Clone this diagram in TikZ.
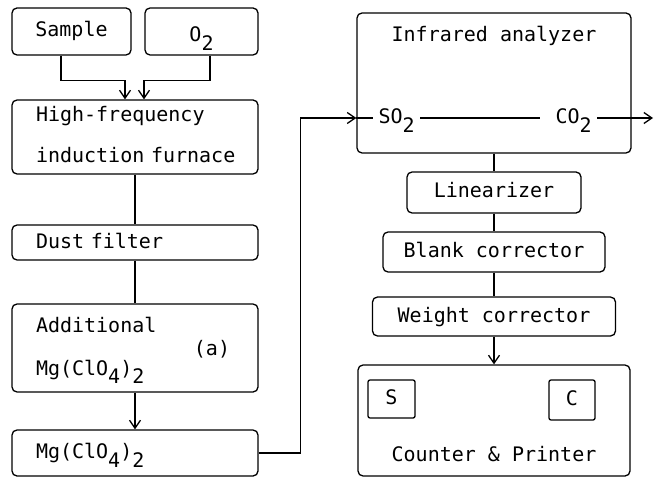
\documentclass[tikz,border=0pt]{standalone}
\usepackage{fontspec}
\newfontfamily\monofont[Ligatures=NoCommon]{DejaVu Sans Mono}
\usetikzlibrary{arrows.meta}
\newcommand{\lowered}[1]{\raisebox{-0.8ex}{#1}}

\begin{document}
\begin{tikzpicture}[x=1pt, y=-1pt, line width=1.3pt, >={Straight Barb[length=8pt,width=11pt]},
  txt/.style = {font=\monofont\fontsize{20}{24}\selectfont, inner sep=0pt, text height=15pt, text depth=4pt},
  main/.style = {txt, draw, rounded corners=5pt},
  col/.style = {main, minimum width=246pt, text width=198pt, align=left}]
\useasboundingbox (0,0) rectangle (655,478);
\node[main, minimum width=119pt, minimum height=47pt] (1) at (71.5,31.5) {Sample};
\node[main, minimum width=113pt, minimum height=47pt, text height=25pt] (2) at (201.5,31.5) {O\lowered{2}};
\node[col, minimum height=74pt, text depth=45pt] (3) at (135,137) {High-frequency\\[17pt]\mbox{induction furnace}};
\node[col, minimum height=35pt] (4) at (135,242.5) {Dust filter};
\node[col, minimum height=88pt, text depth=47pt] (5) at (135,348) {Additional\\[19pt]Mg(ClO\lowered{4})\lowered{2}};
\node[txt] (16) at (212,349.5) {(a)};
\node[col, minimum height=46pt] (6) at (135,453) {Mg(ClO\lowered{4})\lowered{2}};

\node[main, minimum width=274pt, minimum height=140pt, label={[txt, anchor=base, yshift=-29pt]north:Infrared analyzer}] (7) at (494,83) {};
\node[txt, inner xsep=5pt, anchor=west] (14) at (373,118) {SO\lowered{2}};
\node[txt, inner xsep=5pt, anchor=west] (15) at (550,118) {CO\lowered{2}};
\coordinate (out) at (653,118);
\node[main, minimum width=174pt, minimum height=41pt] (8) at (494,192.5) {Linearizer};
\node[main, minimum width=222pt, minimum height=40pt] (9) at (494,252) {Blank corrector};
\node[main, minimum width=243pt, minimum height=39pt] (10) at (494,316.5) {Weight corrector};
\node[main, minimum width=272pt, minimum height=111pt, label={[txt, anchor=base, yshift=15pt]south:Counter \& Printer}] (11) at (494,420.5) {};
\node[main, rounded corners=2pt, minimum width=47pt, minimum height=38pt] (12) at (391.5,399) {S};
\node[main, rounded corners=2pt, minimum width=46pt, minimum height=40pt] (13) at (572,400) {C};

\draw[->] ([xshift=-10.5pt]1.south) -- ++(0,25) -| ([xshift=-10pt]3.north);
\draw[->] ([xshift=8.5pt]2.south) -- ++(0,25) -| ([xshift=9pt]3.north);
\draw (3) -- (4);
\draw (4) -- (5);
\draw[->] (5) -- (6);
\draw[->] (6.east) -- ++(42,0) |- (7.west |- 14.west);
\draw (7.west |- 14.west) -- (14.west);
\draw[shorten >=10pt] (14.east) -- (15.west);
\draw[->] (15.east) -- (out);
\draw (7) -- (8);
\draw (8) -- (9);
\draw (9) -- (10);
\draw[->] (10) -- (11);

\end{tikzpicture}
\end{document}
